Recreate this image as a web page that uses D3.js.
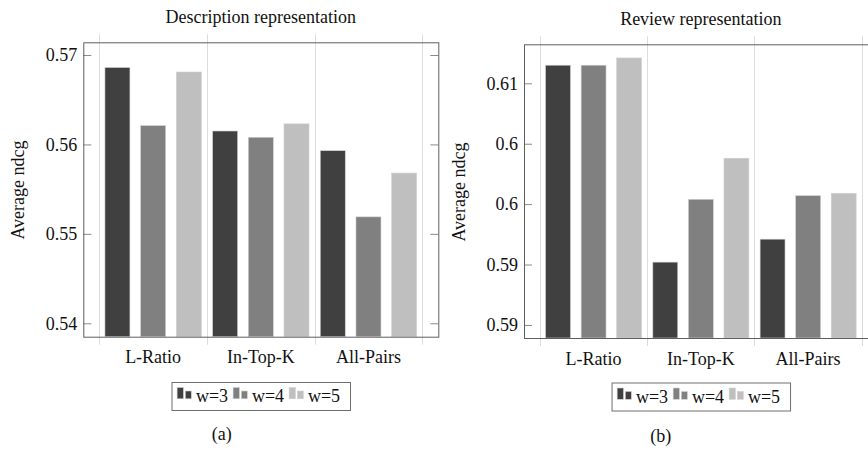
<!DOCTYPE html>
<html>
<head>
<meta charset="utf-8">
<script src="https://cdn.jsdelivr.net/npm/d3@7/dist/d3.min.js"></script>
<style>
	html, body{ margin: 0; padding: 0; background: #fff; }
	svg{ display: block; }
	svg text{ font-family: 'Liberation Serif', serif; font-size: 18px; fill: #111; }
	.frame{ fill: none; stroke: #5e5e5e; stroke-width: 1; }
	.grid{ stroke: #dcdcdc; stroke-width: 1; }
	.ytick line{ stroke: #8a8a8a; }
	.bar{ stroke: #d0d0d0; stroke-width: 0.6; }
	.legend_box{ fill: #fff; stroke: #6e6e6e; stroke-width: 1; }
</style>
</head>
<body>
<svg id="chart" width="868" height="450"></svg>
<script>
var categories = ['L-Ratio', 'In-Top-K', 'All-Pairs']
	, series = ['w=3', 'w=4', 'w=5']
	, colors = ['#404040', '#808080', '#bfbfbf']

	// Description representation, one array per window size
	, descW3 = [0.5686, 0.5615, 0.5593]
	, descW4 = [0.5621, 0.5608, 0.5519]
	, descW5 = [0.5681, 0.5623, 0.5568]
	, descTicks = [0.54, 0.55, 0.56, 0.57]
	, descTickLabels = ['0.54', '0.55', '0.56', '0.57']

	// Review representation
	, revW3 = [0.6115, 0.5952, 0.5971]
	, revW4 = [0.6115, 0.6004, 0.6007]
	, revW5 = [0.6121, 0.6038, 0.6009]
	, revTicks = [0.59, 0.595, 0.6, 0.605, 0.61]
	, revTickLabels = ['0.59', '0.59', '0.6', '0.6', '0.61']
	;

var svg = d3.select('#chart');

function drawPanel(o){
	var g = svg.append('g')
		, x = d3.scaleLinear().domain([0.3514, 3.6486]).range([o.left, o.right])
		, y = d3.scaleLinear().domain(o.yDomain).range([o.bottom, o.top])
		, band = d3.scaleBand().domain(categories).range([x(0.5), x(3.5)])
		, sub = d3.scaleBand().domain(series).range([0, band.bandwidth()]).paddingInner(0.3).paddingOuter(0.158)
		, values = o.values
		, rows = []
		;

	categories.forEach(function(c, i){
		series.forEach(function(s, j){
			rows.push({cat: c, s: s, j: j, v: values[j][i]});
		});
	});

	// 分隔线, 上下各伸出 8px
	g.selectAll('line.grid').data([0.5, 1.5, 2.5, 3.5]).enter().append('line').attr('class', 'grid')
		.attr('x1', function(d){ return Math.round(x(d)) + 0.5; })
		.attr('x2', function(d){ return Math.round(x(d)) + 0.5; })
		.attr('y1', o.top - 8).attr('y2', o.bottom + 8);

	g.selectAll('rect.bar').data(rows).enter().append('rect').attr('class', 'bar')
		.attr('x', function(d){ return band(d.cat) + sub(d.s); })
		.attr('width', sub.bandwidth())
		.attr('y', function(d){ return y(d.v); })
		.attr('height', function(d){ return o.bottom - y(d.v); })
		.attr('fill', function(d){ return colors[d.j]; });

	// y 轴刻度, 向内
	g.append('g').attr('class', 'ytick').attr('transform', 'translate(' + o.left + ',0)')
		.call(d3.axisLeft(y).tickValues(o.ticks).tickSize(-8).tickPadding(6)
			.tickFormat(function(d, i){ return o.tickLabels[i]; }))
		.call(function(a){
			a.attr('font-family', null).attr('font-size', null);
			a.select('.domain').remove();
		});
	g.append('g').attr('class', 'ytick').attr('transform', 'translate(' + o.right + ',0)')
		.call(d3.axisRight(y).tickValues(o.ticks).tickSize(-8).tickFormat(''))
		.call(function(a){ a.select('.domain').remove(); });

	g.append('rect').attr('class', 'frame')
		.attr('x', o.left + 0.5).attr('y', o.top + 0.5)
		.attr('width', o.right - o.left).attr('height', o.bottom - o.top);

	g.selectAll('text.cat').data(categories).enter().append('text')
		.attr('x', function(d){ return band(d) + band.bandwidth() / 2; })
		.attr('y', o.bottom + 26.5)
		.attr('text-anchor', 'middle')
		.text(function(d){ return d; });

	g.append('text').attr('text-anchor', 'middle')
		.attr('x', (o.left + o.right) / 2).attr('y', o.titleY).text(o.title);

	g.append('text').attr('text-anchor', 'middle')
		.attr('transform', 'translate(' + o.labelX + ',' + o.labelY + ') rotate(-90)')
		.text('Average ndcg');

	// legend
	var lx = (o.left + o.right) / 2 - 89.3
		, ly = o.legendY
		, leg = g.append('g').attr('transform', 'translate(' + lx + ',' + ly + ')')
		;
	leg.append('rect').attr('class', 'legend_box').attr('x', 0.5).attr('y', 0.5).attr('width', 178.5).attr('height', 28);
	var item = leg.selectAll('g.item').data(series).enter().append('g')
		.attr('transform', function(d, i){ return 'translate(' + (5.6 + i * 56) + ',0)'; });
	item.append('rect').attr('class', 'bar').attr('x', 0).attr('y', 5.5).attr('width', 6.3).attr('height', 11.3)
		.attr('fill', function(d, i){ return colors[i]; });
	item.append('rect').attr('class', 'bar').attr('x', 8.2).attr('y', 9).attr('width', 6).attr('height', 7.8)
		.attr('fill', function(d, i){ return colors[i]; });
	item.append('text').attr('x', 18.8).attr('y', 20).text(function(d){ return d; });

	svg.append('text').attr('text-anchor', 'middle')
		.attr('x', o.capX).attr('y', o.capY).text(o.caption);
}

drawPanel({
	left: 83.3, right: 438.3, top: 42.3, bottom: 336.7
	, yDomain: [0.5385, 0.57142]
	, values: [descW3, descW4, descW5]
	, ticks: descTicks, tickLabels: descTickLabels
	, title: 'Description representation', titleY: 22.5
	, labelX: 24, labelY: 190
	, legendY: 382
	, caption: '(a)', capX: 221.7, capY: 440
});

drawPanel({
	left: 524, right: 877.7, top: 44.3, bottom: 338
	, yDomain: [0.58892, 0.61323]
	, values: [revW3, revW4, revW5]
	, ticks: revTicks, tickLabels: revTickLabels
	, title: 'Review representation', titleY: 25
	, labelX: 465, labelY: 192
	, legendY: 382.5
	, caption: '(b)', capX: 660.7, capY: 442
});
</script>
</body>
</html>
